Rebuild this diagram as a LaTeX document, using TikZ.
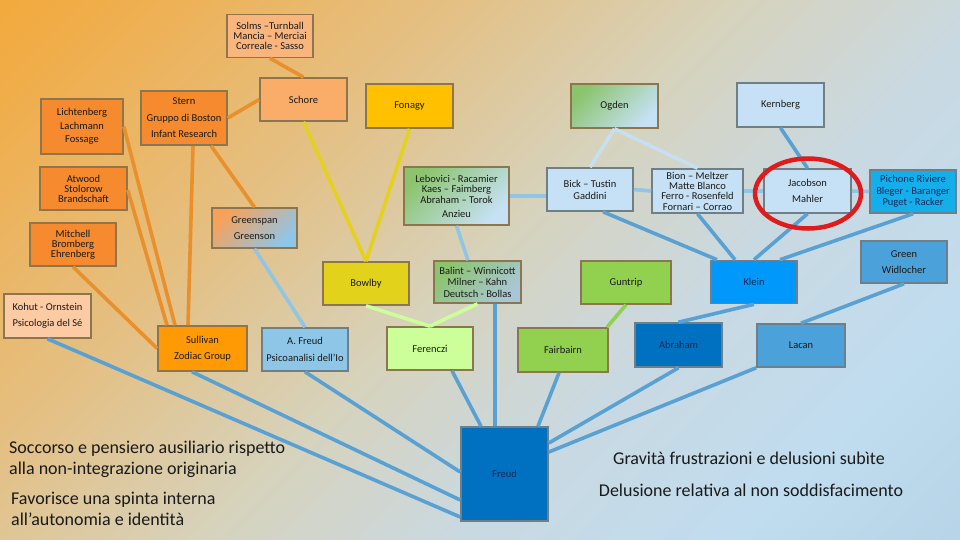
\documentclass[tikz,border=0pt]{standalone}
\usepackage{fontspec}
\setmainfont{Carlito}
\definecolor{bgA}{HTML}{F8A01C}
\definecolor{bgB}{HTML}{F1AC46}
\definecolor{bgC}{HTML}{E4C084}
\definecolor{bgD}{HTML}{D6D3BE}
\definecolor{bgE}{HTML}{C9D9E2}
\definecolor{bgF}{HTML}{C0DCEF}
\definecolor{bgG}{HTML}{B5D2E6}
\definecolor{bgH}{HTML}{98B8CE}
\definecolor{warmedge}{HTML}{8C7650}
\definecolor{cooledge}{HTML}{707F86}
\definecolor{inktext}{HTML}{1A1A1A}
\definecolor{navytext}{HTML}{14285A}
\definecolor{peachlight}{HTML}{FAB57C}
\definecolor{peach}{HTML}{F9AD68}
\definecolor{deeporange}{HTML}{F58A2E}
\definecolor{skin}{HTML}{FCCBA4}
\definecolor{sullivanorange}{HTML}{FF9A05}
\definecolor{amber}{HTML}{FFC000}
\definecolor{bowlbyyellow}{HTML}{E3D21C}
\definecolor{skyblue}{HTML}{8EC6E8}
\definecolor{palegreen}{HTML}{CCFF99}
\definecolor{grassgreen}{HTML}{92D050}
\definecolor{leafgreen}{HTML}{8CC46E}
\definecolor{lightblue}{HTML}{C6E1F5}
\definecolor{grayblue}{HTML}{A9C6D8}
\definecolor{cyanblue}{HTML}{14AEEA}
\definecolor{midblue}{HTML}{4BA1DA}
\definecolor{kleinblue}{HTML}{0098FA}
\definecolor{deepblue}{HTML}{0070C0}
\definecolor{warmline}{HTML}{E98F2B}
\definecolor{yellowline}{HTML}{E4D11F}
\definecolor{skyline}{HTML}{8FC5E6}
\definecolor{paleline}{HTML}{C6E0F1}
\definecolor{steelline}{HTML}{59A0D3}
\definecolor{limeline}{HTML}{CCFF99}
\definecolor{ringred}{HTML}{E01B1B}
\pgfdeclarehorizontalshading{bgshade}{100bp}{color(0bp)=(bgA); color(18bp)=(bgB); color(36bp)=(bgC); color(50bp)=(bgD); color(62bp)=(bgE); color(75bp)=(bgF); color(88bp)=(bgG); color(100bp)=(bgH)}

\begin{document}
\begin{tikzpicture}[
    x=1pt, y=-1pt,
    box/.style={
        draw=warmedge, line width=1.6pt,
        minimum width=86pt, minimum height=43pt,
        inner sep=0pt, align=center, text=inktext,
        font=\fontsize{10.5}{10}\selectfont
    },
    coolbox/.style={box, draw=cooledge},
    spaced/.style={font=\fontsize{10.5}{16.5}\selectfont},
    link/.style={line width=3.6pt},
    warmlink/.style={link, draw=warmline},
    yellowlink/.style={link, draw=yellowline},
    skylink/.style={link, draw=skyline},
    palelink/.style={link, draw=paleline},
    steellink/.style={link, draw=steelline},
    grasslink/.style={link, draw=grassgreen},
    limelink/.style={link, draw=limeline},
    bigtext/.style={
        inner sep=0pt, text=inktext,
        font=\fontsize{18}{20.5}\selectfont
    },
]

% === Background ===
\useasboundingbox (0,0) rectangle (960,540);
\shade[shading=bgshade, shading angle=-45] (0,0) rectangle (960,540);

% === Orange cluster (left) ===
\node[box, fill=peachlight] (solms) at (270,36) {Solms –Turnball\\Mancia – Merciai\\Correale - Sasso};
\node[box, fill=peach, minimum width=87pt] (schore) at (303.5,99.5) {Schore};
\node[box, fill=deeporange, minimum width=82pt, minimum height=55pt,
      font=\fontsize{10.5}{13.5}\selectfont] (lichtenberg) at (82,126.5) {Lichtenberg\\Lachmann\\Fossage};
\node[box, fill=deeporange, minimum height=54pt, spaced] (stern) at (184,118) {Stern\\Gruppo di Boston\\Infant Research};
\node[box, fill=deeporange, minimum width=87pt] (atwood) at (83.5,188.5) {Atwood\\Stolorow\\Brandschaft};
\node[box, fill=deeporange] (mitchell) at (73,244.5) {Mitchell\\Bromberg\\Ehrenberg};
\node[box, top color=deeporange!80, bottom color=skyblue, shading angle=45,
      minimum width=85pt, minimum height=40pt, spaced] (greenspan) at (254.5,228) {Greenspan\\Greenson};
\node[box, fill=skin, minimum width=87pt, minimum height=44pt, spaced] (kohut) at (47.5,316) {Kohut - Ornstein\\Psicologia del Sé};
\node[box, fill=sullivanorange, minimum width=89pt, minimum height=45pt, spaced] (sullivan) at (202.5,348.5) {Sullivan\\Zodiac Group};

% === Middle ===
\node[box, fill=amber, minimum width=87pt, minimum height=44pt] (fonagy) at (409.5,106) {Fonagy};
\node[box, top color=leafgreen, bottom color=lightblue, shading angle=45,
      minimum width=105pt, minimum height=58pt,
      font=\fontsize{10.5}{10.5}\selectfont] (lebovici) at (456.5,196) {Lebovici - Racamier\\Kaes – Faimberg\\Abraham – Torok\\[3.5pt]Anzieu};
\node[box, fill=bowlbyyellow] (bowlby) at (366,283.5) {Bowlby};
\node[box, top color=leafgreen, bottom color=grayblue, shading angle=45,
      minimum width=87pt, minimum height=42pt,
      font=\fontsize{10.5}{11.5}\selectfont] (balint) at (477.5,282) {Balint – Winnicott\\Milner – Kahn\\Deutsch - Bollas};
\node[coolbox, fill=skyblue, spaced] (afreud) at (305,349.5) {A. Freud\\Psicoanalisi dell’Io};
\node[box, fill=palegreen] (ferenczi) at (430,348.5) {Ferenczi};
\node[coolbox, fill=deepblue, text=navytext, minimum width=87pt, minimum height=94pt] (freud) at (504.5,474) {Freud};

% === Right cluster (blue) ===
\node[box, top color=leafgreen, bottom color=lightblue, shading angle=45,
      minimum width=87pt, minimum height=44pt] (ogden) at (614.5,106) {Ogden};
\node[coolbox, fill=lightblue, minimum width=87pt, minimum height=44pt] (kernberg) at (780.5,105) {Kernberg};
\node[coolbox, fill=lightblue, font=\fontsize{10.5}{12}\selectfont] (bick) at (590,189.5) {Bick – Tustin\\Gaddini};
\node[coolbox, fill=lightblue, minimum width=91pt, minimum height=44pt,
      font=\fontsize{10.5}{10.3}\selectfont] (bion) at (697.5,191) {Bion – Meltzer\\Matte Blanco\\Ferro - Rosenfeld\\Fornari – Corrao};
\node[coolbox, fill=lightblue, minimum width=87pt, minimum height=44pt, spaced] (jacobson) at (807.5,191) {Jacobson\\Mahler};
\node[coolbox, fill=cyanblue, text=navytext,
      font=\fontsize{10.5}{11.5}\selectfont] (pichone) at (913,191.5) {Pichone Riviere\\Bleger - Baranger\\Puget - Racker};
\node[coolbox, fill=midblue, minimum height=42pt, spaced] (widlocher) at (904,262) {Green\\Widlocher};
\node[coolbox, fill=kleinblue, text=navytext] (klein) at (754,282) {Klein};
\node[box, fill=grassgreen, minimum width=90pt] (guntrip) at (626,282.5) {Guntrip};
\node[box, fill=grassgreen, minimum width=90pt, minimum height=44pt] (fairbairn) at (563,350) {Fairbairn};
\node[coolbox, fill=deepblue, text=navytext, minimum width=87pt, minimum height=44pt] (abraham) at (678.5,345) {Abraham};
\node[coolbox, fill=midblue, minimum width=88pt] (lacan) at (801,345.5) {Lacan};

% === Connectors ===
\draw[warmlink] (solms.south) -- (schore.north);
\draw[warmlink] (schore.west) -- (stern.east);
\draw[warmlink] ([xshift=9pt]stern.south) -- ([xshift=-14.5pt]sullivan.north);
\draw[warmlink] ([xshift=27pt]stern.south) -- (greenspan.north);
\draw[warmlink] (lichtenberg.east) -- ([xshift=-27.5pt]sullivan.north);
\draw[warmlink] ([yshift=-1.5pt]atwood.east) -- ([xshift=-35.5pt]sullivan.north);
\draw[warmlink] (mitchell.south) -- (sullivan.west);

\draw[yellowlink] (schore.south) -- (bowlby.north);
\draw[yellowlink] (fonagy.south) -- (bowlby.north);

\draw[skylink] (greenspan.south) -- (afreud.north);
\draw[skylink] (lebovici.south) -- ([xshift=-9.5pt]balint.north);
\draw[skylink] (lebovici.east) -- (lebovici.east -| bick.west);
\draw[skylink] (bick.east) -- (bion.west);
\draw[skylink] (bion.east) -- (jacobson.west);
\draw[skylink] (jacobson.east) -- (pichone.west);

\draw[palelink] (ogden.south) -- (bick.north);
\draw[palelink] (ogden.south) -- (bion.north);

\draw[steellink] (kernberg.south) -- (jacobson.north);
\draw[steellink] ([xshift=13pt]bick.south) -- ([xshift=-37pt]klein.north);
\draw[steellink] (bion.south) -- ([xshift=-19pt]klein.north);
\draw[steellink] (jacobson.south) -- (klein.north);
\draw[steellink] (pichone.south) -- ([xshift=26pt]klein.north);
\draw[steellink] (klein.south) -- (abraham.north);
\draw[steellink] (widlocher.south) -- (lacan.north);

\draw[grasslink] (guntrip.south) -- ([xshift=44pt]fairbairn.north);
\draw[limelink] (bowlby.south) -- (ferenczi.north);
\draw[limelink] (balint.south) -- (ferenczi.north);

% into Freud
\draw[steellink] ([xshift=22pt]ferenczi.south) -- ([xshift=-23.5pt]freud.north);
\draw[steellink] ([xshift=17.5pt]balint.south) -- ([xshift=-9.5pt]freud.north);
\draw[steellink] ([xshift=-4pt]fairbairn.south) -- ([xshift=33.5pt]freud.north);
\draw[steellink] (abraham.south) -- ([yshift=31pt]freud.east);
\draw[steellink] (lacan.south west) -- ([yshift=22pt]freud.east);
\draw[steellink] (kohut.south) -- ([yshift=-43pt]freud.west);
\draw[steellink] ([xshift=-10.5pt]sullivan.south) -- ([yshift=-26pt]freud.west);
\draw[steellink] (afreud.south) -- ([yshift=2pt]freud.west);

% === Highlight ring ===
\draw[ringred, line width=4.5pt] (808,193.5) ellipse [x radius=53pt, y radius=35pt];

% === Captions ===
\node[bigtext, anchor=north west, align=left] (soccorso) at (9,441) {Soccorso e pensiero ausiliario rispetto\\alla non-integrazione originaria};
\node[bigtext, anchor=north west, align=left] (favorisce) at (11,492) {Favorisce una spinta interna\\all’autonomia e identità};
\node[bigtext] (gravita) at (749,458) {Gravità frustrazioni e delusioni subìte};
\node[bigtext] (delusione) at (751,490) {Delusione relativa al non soddisfacimento};

\end{tikzpicture}
\end{document}
